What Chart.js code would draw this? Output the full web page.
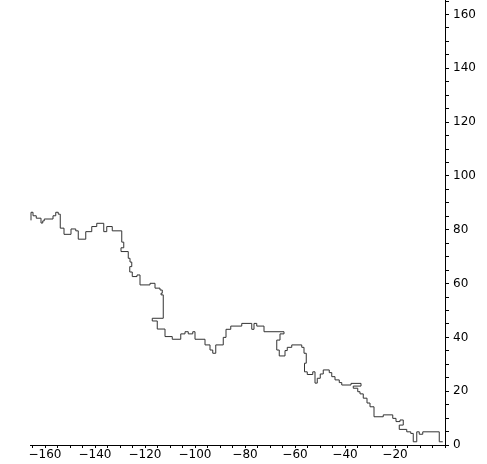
<!DOCTYPE html>
<html>
<head>
<meta charset="utf-8">
<script src="https://cdn.jsdelivr.net/npm/chart.js@4.4.1/dist/chart.umd.min.js"></script>
<style>
  html, body { margin: 0; padding: 0; background: #fff; }
  #walkChart { display: block; }
</style>
</head>
<body>
<canvas id="walkChart" width="487" height="464"></canvas>
<script>
// corners of the lattice walk (vertical step first, then horizontal)
const walkX = [
  -165.6, -164.8, -163.5, -161.6, -160.9, -160.3, -156.8, -155.7, -154.7, -153.9,
  -152.4, -149.6, -147.7, -146.7, -143.7, -141.3, -139.3, -136.5, -135.3, -133.1,
  -129.3, -128.5, -129.6, -126.7, -126.0, -125.3, -126.1, -125.1, -123.2, -122.0,
  -118.0, -116.0, -114.0, -113.1, -113.6, -112.7, -117.1, -115.1, -112.0, -109.1,
  -105.7, -104.0, -102.7, -100.9, -100.0, -96.0, -94.0, -92.9, -91.7, -88.7,
  -87.6, -85.7, -81.3, -77.3, -76.4, -75.3, -72.4, -64.4, -66.0, -67.3,
  -66.3, -64.0, -63.1, -61.3, -57.3, -56.4, -55.5, -56.2, -55.1, -52.9,
  -52.0, -51.1, -49.9, -48.7, -46.3, -45.3, -44.0, -42.3, -41.3, -37.6,
  -33.6, -36.7, -34.9, -34.0, -32.7, -31.2, -30.0, -28.4, -24.7, -20.9,
  -19.6, -18.0, -16.7, -18.3, -15.3, -13.7, -12.7, -11.3, -10.3, -8.9,
  -2.3, -0.9
];
const walkY = [
  83.5, 86.5, 85.2, 84.3, 82.5, 83.3, 84.0, 85.2, 86.5, 85.8,
  80.6, 78.3, 80.3, 79.6, 76.5, 79.3, 81.2, 82.4, 79.3, 81.2,
  79.6, 75.4, 73.3, 71.9, 69.4, 68.0, 66.3, 64.3, 62.6, 63.2,
  59.5, 60.1, 58.3, 57.6, 56.4, 55.8, 47.1, 46.1, 43.1, 40.3,
  39.3, 41.3, 42.1, 41.3, 42.1, 39.3, 37.2, 35.3, 34.1, 37.2,
  40.0, 43.0, 44.2, 45.2, 43.0, 45.2, 44.2, 42.1, 41.3, 39.0,
  35.3, 33.1, 35.1, 36.3, 37.2, 36.3, 34.1, 30.4, 27.2, 26.2,
  27.2, 23.0, 24.8, 26.4, 27.9, 26.9, 25.4, 24.2, 23.2, 22.3,
  22.9, 21.9, 21.1, 19.8, 19.0, 17.4, 15.6, 14.2, 10.5, 11.2,
  9.9, 8.7, 9.3, 7.4, 5.8, 4.9, 4.3, 1.2, 4.9, 4.0,
  4.9, 1.2
];

const xTicks = [];
for (let v = -165; v <= 0; v += 5) xTicks.push(v);
const yTicks = [];
for (let v = 0; v <= 165; v += 5) yTicks.push(v);

const fmt = (v) => String(v).replace('-', '\u2212');

const points = walkX.map((x, i) => ({ x: x, y: walkY[i] }));

new Chart(document.getElementById('walkChart'), {
  type: 'line',
  data: {
    datasets: [
      {
        data: points,
        borderColor: '#333',
        borderWidth: 1,
        pointRadius: 0,
        stepped: 'after', // chart.js: 'after' goes up/down first, then across
        fill: false,
      },
    ],
  },
  options: {
    responsive: false,
    animation: false,
    events: [],
    layout: { padding: { left: 30, top: 0, right: 0, bottom: 0 } },
    plugins: { legend: { display: false }, tooltip: { enabled: false } },
    scales: {
      x: {
        type: 'linear',
        min: -166,
        max: 0,
        position: 'bottom',
        afterBuildTicks: (scale) => { scale.ticks = xTicks.map((v) => ({ value: v })); },
        afterFit: (scale) => {
          scale.height = 19;
          scale.paddingLeft = 0;
          scale.paddingRight = 0;
        },
        grid: { drawOnChartArea: false, drawTicks: true, tickLength: 3, color: '#000', lineWidth: 1 },
        border: { display: true, color: '#000', width: 1 },
        ticks: {
          autoSkip: false,
          maxRotation: 0,
          padding: 0,
          color: '#000',
          font: { family: 'DejaVu Sans', size: 12 },
          callback: (v) => (v % 20 === 0 && v !== 0 ? fmt(v) : ''),
        },
      },
      y: {
        type: 'linear',
        min: 0,
        max: 165.4,
        position: 'right',
        afterBuildTicks: (scale) => { scale.ticks = yTicks.map((v) => ({ value: v })); },
        afterFit: (scale) => {
          scale.width = 42;
          scale.paddingTop = 0;
          scale.paddingBottom = 0;
        },
        grid: { drawOnChartArea: false, drawTicks: true, tickLength: 4, color: '#000', lineWidth: 1 },
        border: { display: true, color: '#000', width: 1 },
        ticks: {
          autoSkip: false,
          padding: 4,
          color: '#000',
          font: { family: 'DejaVu Sans', size: 12 },
          callback: (v) => (v % 20 === 0 ? fmt(v) : ''),
        },
      },
    },
  },
});
</script>
</body>
</html>
